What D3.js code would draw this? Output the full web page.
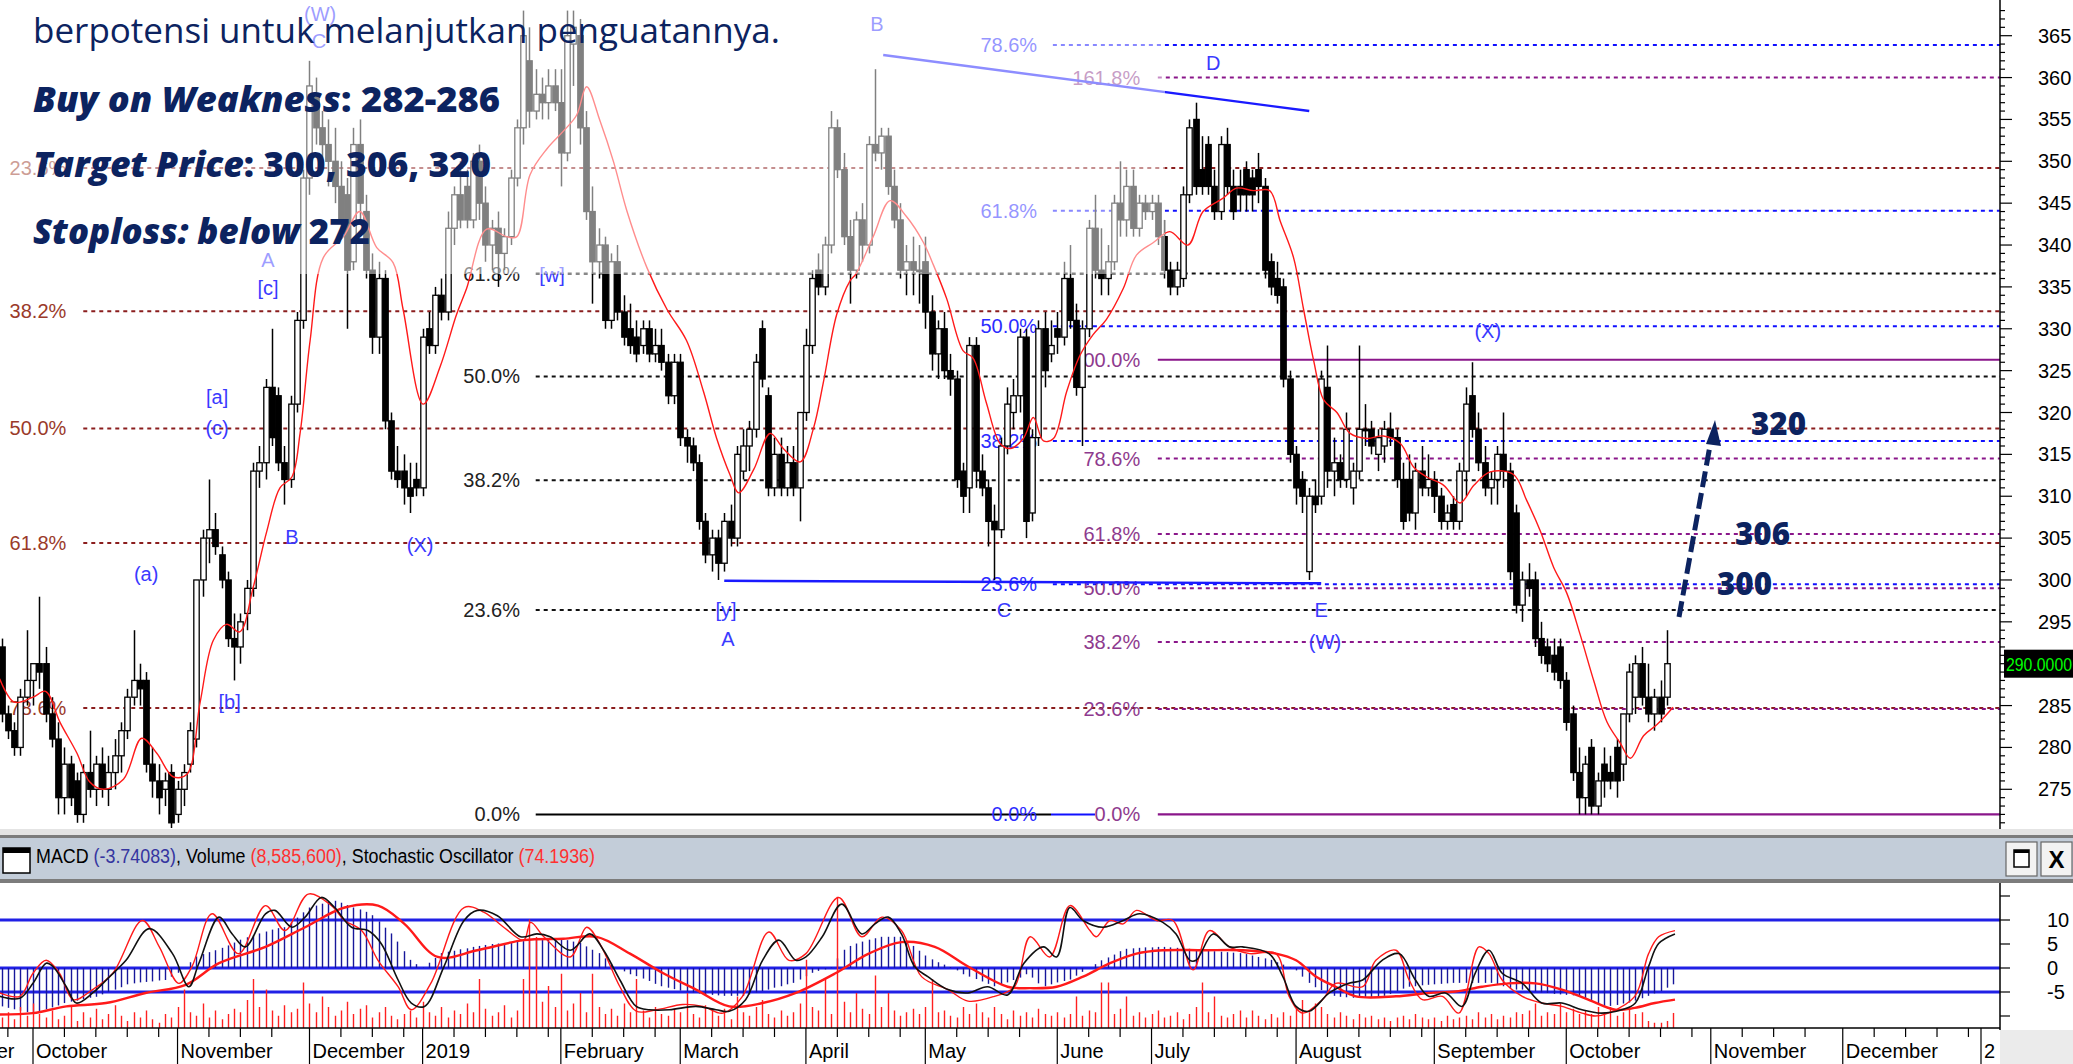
<!DOCTYPE html>
<html><head><meta charset="utf-8">
<script src="https://cdn.jsdelivr.net/npm/d3@7"></script>
<style>
html,body{margin:0;padding:0;background:#fff;overflow:hidden}
svg{display:block}
</style></head><body>
<svg id="c" width="2073" height="1064"></svg>
<script>
// ---------- DATA ----------
const FIRST = -5; // bar index of first bar (index 0 = 1 Oct 2018)
// [open, high, low, close]
const bars = [
[292,293,283,284],[284,285,281,282],[282,283,279,280],[280,287,279,286],[286,294,285,288],
[288,290,285,290],[290,298,287,289],[290,292,283,284],[284,286,280,281],[281,283,272,274],
[274,280,272,278],[278,279,273,274],[276,277,271,272],[272,278,271,277],[277,282,274,275],
[275,279,273,278],[278,280,274,275],[275,279,273,277],[277,281,275,279],[279,283,277,282],
[282,287,281,286],[286,294,285,288],[288,290,285,287],[288,289,277,278],[278,280,274,276],
[276,278,272,274],[275,277,273,276],[277,278,270,271],[272,276,271,275],[275,278,273,277],
[278,283,277,282],[281,300,280,300],[300,306,298,305],[305,312,302,306],[306,308,303,304],
[303,304,299,300],[300,301,292,293],[293,296,288,292],[292,296,290,295],[296,300,294,299],
[299,314,298,313],[313,316,311,314],[314,324,312,323],[323,330,316,317],[322,323,313,314],
[314,316,309,312],[312,322,311,321],[321,332,320,331],[331,349,330,348],[348,362,346,359],
[358,360,352,354],[354,356,349,352],[352,355,347,350],[350,354,345,347],[347,350,341,343],
[346,348,330,337],[338,354,337,352],[352,355,343,345],[344,346,336,337],[337,339,327,329],
[329,338,327,336],[336,337,318,319],[319,320,312,313],[313,316,311,312],[313,315,309,311],
[311,314,308,310],[312,314,310,311],[311,330,310,329],[330,332,327,328],[328,335,327,334],
[334,336,331,332],[332,344,331,342],[342,347,340,346],[346,350,342,343],[347,349,342,343],
[343,351,342,350],[350,352,343,345],[345,347,338,340],[340,343,337,342],[342,344,335,339],
[339,342,337,341],[341,349,340,348],[348,355,347,354],[354,368,352,365],[362,366,354,356],
[356,361,355,358],[358,360,355,357],[357,361,355,359],[359,361,356,357],[357,361,347,351],
[351,368,350,365],[364,368,359,366],[365,367,352,354],[354,356,343,344],[344,347,333,338],
[338,342,336,340],[340,341,330,331],[331,339,330,338],[338,340,331,332],[332,334,328,329],
[330,333,327,328],[329,331,326,327],[328,331,327,330],[330,331,326,327],[327,330,326,328],
[328,330,325,326],[326,327,321,322],[322,327,321,326],[326,327,316,317],[317,318,314,316],
[316,317,313,314],[314,315,306,307],[307,308,302,303],[303,306,301,305],[305,306,300,302],
[302,308,301,307],[307,309,304,305],[305,316,304,315],[313,318,312,316],[316,319,313,318],
[318,327,317,326],[330,331,323,324],[322,323,310,311],[311,317,310,315],[315,317,310,311],
[311,316,310,314],[314,316,310,311],[311,320,307,320],[320,330,319,328],[328,337,327,336],
[337,339,334,335],[335,341,334,340],[340,356,339,354],[354,355,348,349],[349,351,340,341],
[341,343,333,337],[337,344,336,343],[343,345,338,340],[340,353,339,352],[352,361,350,351],
[351,354,349,353],[353,354,346,347],[347,349,342,343],[343,345,336,337],[337,340,334,338],
[338,341,334,337],[337,340,333,337],[338,341,330,332],[332,334,325,327],[327,331,324,330],
[330,332,324,325],[325,327,322,324],[324,325,311,312],[313,314,308,310],[311,329,308,328],
[328,329,311,313],[313,315,310,311],[311,312,304,307],[307,309,300,306],[306,317,305,316],
[316,323,315,321],[320,324,318,322],[322,330,320,329],[329,330,305,307],[308,318,307,317],
[317,331,316,330],[330,332,323,325],[327,331,326,328],[330,332,327,329],[329,338,328,336],
[336,340,330,331],[331,333,322,323],[323,331,316,330],[330,343,329,342],[342,346,336,337],
[337,342,334,336],[336,340,334,338],[338,346,337,345],[345,350,341,343],[343,349,341,347],
[347,349,341,342],[342,346,341,345],[345,346,343,344],[344,346,343,345],[345,346,340,341],
[341,343,336,337],[337,338,334,335],[335,338,334,337],[336,347,335,346],[346,355,345,354],
[355,357,346,347],[349,353,346,347],[352,353,346,347],[347,349,343,344],[344,353,343,352],
[352,354,346,347],[347,349,343,344],[347,349,344,346],[349,350,344,346],[348,349,344,346],
[349,351,345,347],[347,348,336,337],[338,339,334,335],[336,338,333,334],[335,336,323,324],
[324,325,314,315],[315,316,309,311],[312,313,308,310],[301,311,300,310],[310,312,308,309],
[310,325,309,324],[323,328,311,313],[313,317,310,314],[314,315,311,312],[312,320,311,318],
[311,314,309,313],[313,328,312,318],[318,321,316,318],[318,319,315,316],[315,318,313,317],
[316,319,314,318],[318,320,316,317],[317,318,311,312],[312,314,306,307],[312,315,307,308],
[308,314,306,313],[313,316,310,311],[311,315,310,312],[312,313,308,310],[310,311,306,307],
[307,309,306,308],[309,310,306,307],[307,314,306,313],[313,323,310,321],[322,326,317,318],
[318,320,313,314],[314,316,310,311],[311,313,309,312],[312,316,309,315],[315,320,311,313],
[313,314,300,301],[308,309,296,297],[297,301,295,300],[300,302,298,299],[300,301,292,293],
[293,295,290,291],[292,293,289,290],[291,293,288,289],[292,293,287,288],[288,289,282,283],
[284,285,276,277],[277,280,272,274],[274,279,272,278],[280,281,272,273],[273,277,272,276],
[278,280,274,276],[277,279,275,276],[280,281,274,276],[278,284,276,284],[284,290,283,289],
[286,291,284,290],[290,292,285,286],[286,290,283,284],[284,287,282,286],[286,288,283,284],
[286,294,285,290]
];
// moving average: [bar index, value]
const maPoints = [[-5.3,288.2],[-3,285.4],[0,286],[2,286.7],[4.3,283],[7,279.3],[9,275.9],[11.2,275],[14.4,276.2],[17.3,281.1],[19.7,279.3],[22.3,276.5],[24.5,276.8],[26.6,285.4],[28.7,292.8],[30.8,294.7],[32.9,293.8],[35,299],[37.2,305.8],[39.3,311],[41.2,312.3],[42.5,317.5],[44.1,328.6],[46.2,338.5],[49.4,341],[52,344],[54.7,339.7],[57.3,337.9],[58.9,332.3],[62.1,321],[64.8,325.5],[67.4,331.7],[69,334.8],[72.2,341.9],[75.4,341],[77,341],[79.1,348.4],[81.8,351.5],[84.4,353.6],[86.5,355.5],[88.1,358.9],[90.2,354.9],[92.4,349.9],[94.5,344.1],[97.7,337.3],[100.9,332.3],[104,328.6],[106.7,322.5],[108.8,316.9],[110.9,312.6],[112.3,310.4],[114.7,313.2],[117.3,317.5],[119.4,315.7],[122.1,314.1],[124.2,318.1],[125.8,323.7],[127.9,331.7],[130,335.7],[131,336.6],[133.7,341],[136.4,345.3],[139,343.4],[141.7,340.3],[143.3,337.6],[145.4,333.6],[148,327.4],[149.6,326.5],[151.7,321.2],[153.9,316.3],[155.5,315.7],[157.6,316.9],[159.2,319.4],[160.8,316.6],[162.4,316.9],[164.5,322.5],[166.6,326.8],[168.7,329.3],[170.8,331.1],[173.5,334.8],[175.6,338.8],[178.3,340.3],[180.9,341.6],[183.8,340],[186.2,344],[189.4,345.6],[191.5,346.8],[194.2,346.5],[196.8,346.5],[198.5,342.8],[200.6,338.5],[202.2,332.3],[203.8,326.2],[205.4,321.5],[207.5,320],[209.6,317.5],[212.3,316.9],[214.9,317.2],[217.6,316.3],[219.7,313.5],[221.8,312.3],[224.5,311.3],[227.1,309.2],[229.3,311.3],[231.9,312.9],[235.6,312.6],[237.7,309.5],[239.9,305.8],[242,301.5],[244.1,298.4],[246.2,293.5],[248.4,287.9],[250.5,283],[252.6,280.5],[254.2,278.7],[256.3,281.4],[258.4,282.7],[261,284.8]];
// volume (millions), one per bar
const volume = [6,9,5,12,7,
14,8,6,10,5,7,12,4,9,6,11,5,8,13,7,4,9,6,10,5,3,8,6,
12,22,9,7,14,6,10,5,8,11,9,16,28,12,22,10,7,13,9,11,26,
14,9,18,12,7,10,15,8,11,13,6,9,12,7,5,8,10,6,
15,9,7,12,6,10,8,14,9,28,11,7,9,13,6,10,28,62,52,15,24,12,
31,10,14,20,9,31,12,8,11,7,14,9,28,10,6,12,8,7,11,
9,20,8,6,13,10,7,11,5,18,9,7,12,16,8,6,10,7,9,14,
39,12,10,28,8,75,15,9,20,11,8,30,12,20,10,7,9,11,8,
12,28,9,10,7,6,12,8,14,9,6,12,8,5,10,7,9,6,11,8,7,
9,6,8,18,7,10,9,26,26,8,11,18,7,9,6,
8,10,6,7,9,5,8,12,26,9,18,7,6,8,10,6,10,7,5,8,6,9,7,
11,16,9,14,12,8,6,9,7,5,8,6,7,5,6,4,6,7,5,8,6,5,
6,4,7,5,6,7,5,9,6,8,5,7,6,9,8,10,14,7,9,8,14,
9,11,8,10,8,12,9,12,7,9,12,8,9,4,3,3,4,8.59];
// MACD histogram, one per bar
const macdHist = [-8.0,-8.3,-8.6,-8.9,-9.2,-9.4,-9.0,-8.6,-8.2,-7.8,-7.3,-7.0,-6.8,-6.5,-6.2,-6.0,-5.5,-5.0,-4.5,-4.0,-3.4,-3.2,-3.0,-2.9,-2.8,-2.6,-2.5,-1.8,-1.0,0,
1.2,2.4,2.9,3.3,3.7,4.2,4.7,5.3,5.9,6.4,6.8,7.2,7.6,8.0,8.3,8.5,9.5,10.5,11.6,12.6,13.0,13.4,13.8,14.0,13.6,13.1,12.6,12.2,11.7,11.0,9.7,8.4,7.2,5.5,3.5,
1.7,0.8,0.1,1.1,2.1,3.1,3.4,3.6,3.9,4.1,4.4,4.6,4.8,5.0,5.1,5.2,5.3,5.5,5.6,5.8,5.9,6.0,6.1,6.2,6.1,5.8,5.5,5.2,4.5,3.8,
3.1,2.0,0.9,0.0,-0.7,-1.3,-1.7,-2.2,-2.7,-3.3,-3.8,-4.1,-4.4,-4.7,-4.9,-5.1,-5.3,-5.5,-5.6,-5.7,-5.8,-5.8,-5.8,-5.8,-5.5,
-5.1,-4.8,-4.5,-4.1,-3.8,-3.4,-3.1,-2.4,-1.7,-1.0,-0.6,-0.3,0.1,2.0,3.8,4.6,5.1,5.5,5.9,6.2,6.5,6.5,6.5,6.5,5.5,
4.6,3.6,2.6,1.8,1.2,0.7,0.2,-0.5,-1.3,-1.8,-2.3,-2.8,-3.3,-3.8,-3.5,-3.0,-2.5,-2.0,-1.3,-2.0,-3.2,-3.8,-3.4,-3.0,-2.7,
-2.4,-1.6,-0.8,0.0,0.8,1.6,2.2,2.8,3.5,4.0,4.1,4.2,4.3,4.3,4.4,4.4,4.3,4.2,4.1,4.0,3.8,3.7,3.6,3.5,3.4,
3.3,3.2,3.1,2.9,2.6,2.3,2.0,1.7,1.2,0.7,0.2,-0.5,-1.8,-3.1,-4.0,-4.6,-5.2,-5.8,-6.0,-6.1,-6.2,-6.2,-6.2,-6.1,-6.0,
-5.8,-5.4,-4.8,-4.3,-3.9,-3.8,-3.6,-3.5,-3.4,-3.3,-3.2,-3.1,-3.1,-3.1,-3.1,-3.1,-3.1,-3.1,-3.4,-3.8,
-4.2,-4.5,-4.5,-4.7,-4.9,-5.1,-5.2,-5.4,-5.5,-5.6,-5.7,-5.8,-6.3,-6.9,-7.4,-7.9,-7.9,-7.7,-7.4,-7.2,-6.8,-6.3,-5.8,-5.3,-4.8,-4.1,-3.4];
// oscillator lines: [bar index, panel value]
const stochK = [[-5.3,-5.9],[-2.1,-6.3],[0,-3.2],[2.1,1.0],[3.2,0.3],[5.3,-3.9],[6.9,-7.3],[9.5,-5.2],[12.2,-1.8],[14.8,1.6],[18.5,8.2],[22.2,3.0],[24.8,-3.9],[26.4,1.0],[29.6,10.6],[31.7,7.1],[33.8,4.4],[37,11.3],[38.5,12.0],[41.2,8.5],[43.3,10.6],[45.9,14.7],[48,12.6],[50.7,8.5],[53.3,7.8],[55.4,5.1],[58.1,-2.5],[60.2,-7.3],[62.3,-8.0],[65.4,0.3],[68.6,9.9],[70.7,12.0],[73.9,10.9],[77.6,6.5],[80.2,7.1],[82.3,6.5],[85.5,3.7],[88.6,7.1],[90.8,3.7],[93.4,-2.5],[96,-8.0],[98.1,-8.7],[101.3,-8.7],[105.5,-8.0],[108.7,-8.7],[110.8,-9.0],[113.4,-6.6],[116.1,1.6],[118.7,5.8],[121.4,1.6],[123,2.3],[125.6,6.5],[128.7,13.3],[131.9,7.1],[134,9.2],[136.1,10.6],[138.2,7.1],[140.3,0.3],[142.4,-1.8],[145.6,-4.5],[148.8,-5.2],[151.9,-3.9],[155.1,-5.6],[157.7,1.0],[160.8,4.4],[162.9,2.3],[165.0,12.6],[167.1,9.9],[170.3,8.5],[173.5,9.9],[176.1,11.3],[179.8,9.5],[181.9,7.1],[184.1,1.6],[185.1,1.6],[187.8,7.1],[190.4,4.4],[192.5,4.4],[196.7,3.0],[198.9,-1.8],[201,-8.0],[203.1,-9.0],[206.3,-5.2],[209.4,-3.2],[211.6,-2.5],[214.7,1.6],[217.4,3.0],[220,-2.5],[222.1,-5.9],[224.8,-5.2],[227.4,-8.0],[229.5,-1.1],[231.7,3.7],[233.8,-1.1],[237,-3.2],[240.1,-7.3],[243.3,-7.3],[246.5,-8.7],[249.6,-9.4],[252.8,-8.7],[255,-7.3],[257.1,0.3],[258.7,5.1],[261.3,7.1]];
const stochD = [[-5.3,-5.2],[-2.1,-5.9],[0,-1.1],[2.1,1.6],[4.2,-1.1],[6.4,-6.6],[9.5,-4.5],[12.7,-1.1],[17.4,9.9],[20.1,4.4],[23.2,-3.2],[25.3,0.3],[28.5,11.3],[32.7,3.0],[37,13.0],[40.1,7.8],[43.8,15.4],[47.5,13.0],[49.6,9.9],[52.3,7.8],[54.9,1.6],[58.1,-3.9],[60.2,-8.7],[63.3,-3.2],[68.6,12.6],[71.8,11.6],[74.9,8.5],[78.1,5.8],[79.2,9.5],[81.3,6.5],[85.5,2.3],[88.1,8.5],[90.2,5.1],[93.4,-3.9],[96,-9.0],[99.2,-8.7],[103.4,-7.6],[106.6,-8.0],[109.8,-9.4],[112.9,-5.9],[117.1,7.5],[120.3,1.6],[123,3.0],[128.2,14.7],[131.9,6.5],[135.1,10.6],[138.2,7.8],[141.4,-1.8],[145.6,-4.5],[148.8,-6.9],[153,-5.9],[156.2,-3.9],[158.7,6.5],[161.8,2.3],[165,13.0],[168.2,7.8],[169.2,6.5],[171.4,9.9],[173.5,9.2],[175.6,12.0],[178.8,9.9],[181.4,9.9],[184.6,-0.4],[187.2,7.8],[190.4,4.4],[193.6,3.0],[197.8,3.0],[199.9,-5.9],[202,-9.4],[205.2,-6.6],[207.3,-3.2],[211.6,-3.9],[213.7,1.6],[216.9,3.7],[219,-2.5],[221.1,-6.6],[224.3,-5.9],[226.9,-9.4],[230.1,4.4],[231.7,3.0],[233.8,-2.5],[237,-5.9],[240.1,-7.3],[243.3,-8.0],[246.5,-9.4],[248.6,-10.0],[250.7,-9.4],[254.9,-5.9],[257.1,3.0],[258.7,6.5],[261.3,7.8]];
const macdLine = [[-5.3,-9.7],[0,-9.4],[5.3,-8.0],[11.6,-7.3],[17.9,-5.2],[24.3,-3.5],[29.6,1.0],[37,4.4],[43.3,8.5],[49.6,12.6],[54.9,13.0],[59.1,9.2],[64.4,2.3],[70.7,3.7],[78.1,5.8],[84.4,6.1],[89.7,6.5],[95,3.0],[100.3,-1.1],[105.5,-4.5],[110.8,-8.0],[116.1,-7.3],[121.4,-5.2],[127.7,-1.1],[133,3.0],[138.2,5.4],[143.5,4.4],[148.8,0.3],[155.1,-3.9],[158.7,-4.2],[162.9,-3.9],[167.1,-1.8],[171.4,1.0],[175.6,3.0],[179.8,3.7],[186.2,3.7],[192.5,3.7],[197.8,3.0],[201,1.6],[204.2,-1.8],[207.3,-3.9],[210.5,-5.9],[216.9,-5.9],[222.1,-5.2],[226.4,-4.9],[230.6,-3.9],[234.8,-3.2],[239.1,-3.2],[243.3,-4.5],[247.5,-6.6],[251.8,-8.7],[254.9,-8.3],[258.1,-7.3],[261.3,-6.6]];

// time axis
const monthNames = ["September","October","November","December","2019","February","March","April","May","June","July","August","September","October","November","December","2"];
const monthStart = [-19,0,23,44,62,84,103,123,142,163,178,201,223,244,267,288,310];
const priceTicks = [365,360,355,350,345,340,335,330,325,320,315,310,305,300,295,285,280,275];
const lowTicks = [10,5,0,-5];

// Fibonacci sets: levels, labels, label-end index, line-start index
const fibRed    = {lv:[349.2,332.1,318.1,304.4,284.7], lb:["23.6%","38.2%","50.0%","61.8%","78.6%"], lab:5.3, from:8, col:"#8b1e1e", tcol:"#9a3a2a"};
const fibBlack  = {lv:[336.6,324.3,311.9,296.4], lb:["61.8%","50.0%","38.2%","23.6%"], lab:77.5, from:80, col:"#111", tcol:"#222"};
const fibBlue   = {lv:[363.9,344.1,330.3,316.6,299.5], lb:["78.6%","61.8%","50.0%","38.2%","23.6%"], lab:159.8, from:162.3, col:"#1010ff", tcol:"#2b2bff"};
const fibPurple = {lv:[360.0,314.5,305.5,299.0,292.6,284.6], lb:["161.8%","78.6%","61.8%","50.0%","38.2%","23.6%"], lab:176.2, from:179, col:"#8a168a", tcol:"#8e3a8e"};
const fibPurple100 = 326.3;
const zeroLevel = 272;

// wave labels [text, bar index, price]
const waveLabels = [["(W)",45.7,367.6],["C",45.5,364.4],["A",37.4,338.2],["[c]",37.4,334.9],["[a]",29.3,321.8],["(c)",29.3,318.2],
["B",41.2,305.1],["(a)",18,300.7],["(X)",61.6,304.2],["[b]",31.3,285.4],["[w]",82.6,336.4],["[y]",110.3,296.4],["A",110.6,292.9],
["B",134.3,366.4],["C",154.5,296.4],["D",187.8,361.7],["E",205,296.4],["(W)",205.6,292.6],["(X)",231.5,329.7]];
// trend lines [i1,p1,i2,p2]
const trendLines = [[135.3,362.7,203.1,356.0],[110,299.9,205,299.6]];

const noteLines = ["pergerakan harga saat ini sedang menguji area support kuat,","berpotensi untuk melanjutkan penguatannya."];
const targets = [["320",318.6],["306",305.5],["300",299.5]];
const lastPrice = 290;

// ---------- SCALES ----------
const svg = d3.select('#c');
const x = d3.scaleLinear().domain([0,310]).range([33,1981]);
const y = d3.scaleLinear().domain([275,365]).range([789.3,35.7]);
const yL = d3.scaleLinear().domain([0,10]).range([968,920]);
const yV = d3.scaleLinear().domain([0,80]).range([1028,888]);
const AX = 2000;
const FONT = "'Liberation Sans',Arial,sans-serif";
const NAVY = "#0c2360";

const defs = svg.append('defs');
defs.append('clipPath').attr('id','mainClip').append('rect').attr('x',0).attr('y',0).attr('width',AX).attr('height',828);
defs.append('clipPath').attr('id','lowClip').append('rect').attr('x',0).attr('y',884).attr('width',AX).attr('height',144);

svg.append('rect').attr('width',2073).attr('height',1064).attr('fill','#fff');

const main = svg.append('g').attr('clip-path','url(#mainClip)');

// ---------- FIB LINES ----------
function fibSet(s){
  s.lv.forEach((p,k)=>{
    main.append('line').attr('x1',x(s.from)).attr('x2',AX).attr('y1',y(p)).attr('y2',y(p))
      .attr('stroke',s.col).attr('stroke-width',2).attr('stroke-dasharray','4,4');
    main.append('text').attr('x',x(s.lab)).attr('y',y(p)+7).attr('text-anchor','end')
      .attr('font-family',FONT).attr('font-size',20).attr('fill',s.tcol).text(s.lb[k]);
  });
}
[fibRed,fibBlack,fibBlue,fibPurple].forEach(fibSet);
// 100% purple solid
main.append('line').attr('x1',x(fibPurple.from)).attr('x2',AX).attr('y1',y(fibPurple100)).attr('y2',y(fibPurple100)).attr('stroke','#8a168a').attr('stroke-width',2.2);
main.append('text').attr('x',x(fibPurple.lab)).attr('y',y(fibPurple100)+7).attr('text-anchor','end').attr('font-family',FONT).attr('font-size',20).attr('fill',fibPurple.tcol).text('100.0%');
// 0.0% lines
main.append('line').attr('x1',x(fibBlack.from)).attr('x2',x(162)).attr('y1',y(zeroLevel)).attr('y2',y(zeroLevel)).attr('stroke','#000').attr('stroke-width',2);
main.append('line').attr('x1',x(162)).attr('x2',x(169)).attr('y1',y(zeroLevel)).attr('y2',y(zeroLevel)).attr('stroke','#1010ff').attr('stroke-width',2);
main.append('line').attr('x1',x(fibPurple.from)).attr('x2',AX).attr('y1',y(zeroLevel)).attr('y2',y(zeroLevel)).attr('stroke','#8a168a').attr('stroke-width',2.2);
[[fibBlack,'#222'],[fibBlue,'#2b2bff'],[fibPurple,'#8e3a8e']].forEach(([s,c])=>{
  main.append('text').attr('x',x(s.lab)).attr('y',y(zeroLevel)+7).attr('text-anchor','end').attr('font-family',FONT).attr('font-size',20).attr('fill',c).text('0.0%');
});

// trend lines
trendLines.forEach(t=>{
  main.append('line').attr('x1',x(t[0])).attr('y1',y(t[1])).attr('x2',x(t[2])).attr('y2',y(t[3])).attr('stroke','#1a1aff').attr('stroke-width',2.4);
});

// ---------- CANDLES ----------
const cw = 5.4;
const cg = main.append('g');
cg.selectAll('line.w').data(bars).join('line').attr('class','w')
  .attr('x1',(d,k)=>Math.round(x(k+FIRST))+0.5).attr('x2',(d,k)=>Math.round(x(k+FIRST))+0.5)
  .attr('y1',d=>y(d[1])).attr('y2',d=>y(d[2])).attr('stroke','#000').attr('stroke-width',1.5);
cg.selectAll('rect.b').data(bars).join('rect').attr('class','b')
  .attr('x',(d,k)=>Math.round(x(k+FIRST))+0.5-cw/2)
  .attr('y',d=>y(Math.max(d[0],d[3])))
  .attr('width',cw)
  .attr('height',d=>Math.max(1.5,Math.abs(y(d[0])-y(d[3]))))
  .attr('fill',d=>d[3]>d[0]?'#fff':'#000').attr('stroke','#000').attr('stroke-width',1.3);

// moving average
main.append('path').datum(maPoints)
  .attr('d',d3.line().x(d=>x(d[0])).y(d=>y(d[1])).curve(d3.curveCatmullRom))
  .attr('fill','none').attr('stroke','#ff1a1a').attr('stroke-width',1.4);

// wave labels
main.selectAll('text.wave').data(waveLabels).join('text').attr('class','wave')
  .attr('x',d=>x(d[1])).attr('y',d=>y(d[2])+7).attr('text-anchor','middle')
  .attr('font-family',FONT).attr('font-size',20).attr('fill','#3a3aff').text(d=>d[0]);

// overlay (semi-transparent box behind the note text)
svg.append('rect').attr('x',0).attr('y',0).attr('width',1165).attr('height',274).attr('fill','#fff').attr('opacity',0.5);

// ---------- PRICE AXIS ----------
svg.append('line').attr('x1',AX).attr('x2',AX).attr('y1',0).attr('y2',830).attr('stroke','#000').attr('stroke-width',1.5);
const minor = d3.range(268,369);
svg.selectAll('line.pt').data(minor).join('line').attr('class','pt')
  .attr('x1',AX).attr('x2',d=>d%5===0?AX+12:AX+5).attr('y1',d=>y(d)).attr('y2',d=>y(d))
  .attr('stroke','#000').attr('stroke-width',1.2);
svg.selectAll('text.pl').data(priceTicks).join('text').attr('class','pl')
  .attr('x',2038).attr('y',d=>y(d)+7).attr('font-family',FONT).attr('font-size',20).attr('fill','#000').text(d=>d);
svg.append('rect').attr('x',2004).attr('y',y(lastPrice)-14).attr('width',69).attr('height',28).attr('fill','#000');
svg.append('text').attr('x',2006).attr('y',y(lastPrice)+7).attr('font-family',FONT).attr('font-size',19).attr('fill','#00ff00').attr('textLength',66).attr('lengthAdjust','spacingAndGlyphs').text(lastPrice.toFixed(4));

// ---------- NOTE TEXT ----------
const nt = svg.append('g').attr('fill',NAVY);
nt.append('text').attr('x',33).attr('y',-8).attr('font-family',"'Open Sans',sans-serif").attr('font-size',34).attr('textLength',779).attr('lengthAdjust','spacingAndGlyphs').text(noteLines[0]);
nt.append('text').attr('x',33).attr('y',43).attr('font-family',"'Open Sans',sans-serif").attr('font-size',34).attr('textLength',747).attr('lengthAdjust','spacingAndGlyphs').text(noteLines[1]);
function boldLine(yy,label,value,len){
  const t = nt.append('text').attr('x',33).attr('y',yy).attr('font-family',"'Open Sans',sans-serif").attr('font-size',36).attr('font-weight',800)
    .attr('textLength',len).attr('lengthAdjust','spacingAndGlyphs');
  t.append('tspan').attr('font-style','italic').text(label);
  t.append('tspan').text(value);
}
boldLine(112,"Buy on Weakness",": 282-286",467);
boldLine(177,"Target Price",": 300, 306, 320",458);
boldLine(244,"Stoploss: below ","272",337);

// target labels and arrow
const tx = [1751,1735,1717];
targets.forEach((t,k)=>{
  svg.append('text').attr('x',tx[k]).attr('y',y(t[1])+11).attr('font-family',"'Open Sans',sans-serif").attr('font-size',31).attr('font-weight',800)
    .attr('fill',NAVY).attr('textLength',55).attr('lengthAdjust','spacingAndGlyphs').text(t[0]);
});
const a0=[1679,617], a1=[1711,440], tip=[1715,420];
svg.append('line').attr('x1',a0[0]).attr('y1',a0[1]).attr('x2',a1[0]).attr('y2',a1[1]).attr('stroke',NAVY).attr('stroke-width',5).attr('stroke-dasharray','16,6');
svg.append('path').attr('d',`M${tip[0]},${tip[1]} L${tip[0]-9},${tip[1]+24} L${tip[0]+6},${tip[1]+26} Z`).attr('fill',NAVY);

// ---------- PANEL HEADER ----------
svg.append('rect').attr('x',0).attr('y',829).attr('width',2073).attr('height',6).attr('fill','#e4e4e4');
svg.append('rect').attr('x',0).attr('y',835).attr('width',2073).attr('height',3).attr('fill','#7c7c7c');
svg.append('rect').attr('x',0).attr('y',838).attr('width',2073).attr('height',41).attr('fill','#c3cdd9');
svg.append('rect').attr('x',0).attr('y',879).attr('width',2073).attr('height',4).attr('fill','#7c7c7c');
svg.append('rect').attr('x',3).attr('y',848).attr('width',27).attr('height',25).attr('fill','#fff').attr('stroke','#000').attr('stroke-width',1.5);
svg.append('rect').attr('x',3).attr('y',848).attr('width',27).attr('height',5).attr('fill','#000');
const ht = svg.append('text').attr('x',36).attr('y',863).attr('font-family',FONT).attr('font-size',20).attr('textLength',559).attr('lengthAdjust','spacingAndGlyphs');
[["MACD ","#000"],["(-3.74083)","#3535a0"],[", Volume ","#000"],["(8,585,600)","#ff3030"],[", Stochastic Oscillator ","#000"],["(74.1936)","#ff3030"]]
  .forEach(p=>ht.append('tspan').attr('fill',p[1]).text(p[0]));
[[2006,'max'],[2041,'x']].forEach(([bx,kind])=>{
  svg.append('rect').attr('x',bx).attr('y',842).attr('width',31).attr('height',34).attr('fill','#f2f2f2').attr('stroke','#666').attr('stroke-width',1.2);
  if(kind==='max'){
    svg.append('rect').attr('x',bx+8).attr('y',850).attr('width',15).attr('height',17).attr('fill','#fff').attr('stroke','#000').attr('stroke-width',1.5);
    svg.append('rect').attr('x',bx+8).attr('y',850).attr('width',15).attr('height',3).attr('fill','#000');
  } else {
    svg.append('text').attr('x',bx+15.5).attr('y',868).attr('text-anchor','middle').attr('font-family',FONT).attr('font-size',24).attr('font-weight',700).text('X');
  }
});

// ---------- LOWER PANEL ----------
const low = svg.append('g').attr('clip-path','url(#lowClip)');
[10,0,-5].forEach(v=>low.append('line').attr('x1',0).attr('x2',AX).attr('y1',yL(v)).attr('y2',yL(v)).attr('stroke','#2020e6').attr('stroke-width',3));
low.selectAll('line.h').data(macdHist).join('line').attr('class','h')
  .attr('x1',(d,k)=>Math.round(x(k+FIRST))+0.5).attr('x2',(d,k)=>Math.round(x(k+FIRST))+0.5)
  .attr('y1',yL(0)).attr('y2',d=>yL(d)).attr('stroke','#17179a').attr('stroke-width',1.4);
low.selectAll('line.v').data(volume).join('line').attr('class','v')
  .attr('x1',(d,k)=>Math.round(x(k+FIRST))+0.5).attr('x2',(d,k)=>Math.round(x(k+FIRST))+0.5)
  .attr('y1',yV(0)).attr('y2',d=>yV(d)).attr('stroke','#ff2020').attr('stroke-width',1.4);
const lineL = d3.line().x(d=>x(d[0])).y(d=>yL(d[1]));
low.append('path').datum(macdLine).attr('d',lineL.curve(d3.curveCatmullRom)).attr('fill','none').attr('stroke','#ff1a1a').attr('stroke-width',2.4);
low.append('path').datum(stochD).attr('d',d3.line().x(d=>x(d[0])).y(d=>yL(d[1])).curve(d3.curveCatmullRom)).attr('fill','none').attr('stroke','#ff1a1a').attr('stroke-width',1.4);
low.append('path').datum(stochK).attr('d',d3.line().x(d=>x(d[0])).y(d=>yL(d[1])).curve(d3.curveCatmullRom)).attr('fill','none').attr('stroke','#111').attr('stroke-width',1.6);

svg.append('line').attr('x1',AX).attr('x2',AX).attr('y1',883).attr('y2',1030).attr('stroke','#000').attr('stroke-width',1.5);
svg.selectAll('line.lt').data([15,10,5,0,-5,-10]).join('line').attr('class','lt')
  .attr('x1',AX).attr('x2',AX+10).attr('y1',d=>yL(d)).attr('y2',d=>yL(d)).attr('stroke','#000').attr('stroke-width',1.2);
svg.selectAll('text.ll').data(lowTicks).join('text').attr('class','ll')
  .attr('x',2047).attr('y',d=>yL(d)+7).attr('font-family',FONT).attr('font-size',20).text(d=>d);

// ---------- TIME AXIS ----------
svg.append('rect').attr('x',AX).attr('y',1030).attr('width',73).attr('height',34).attr('fill','#ebebeb');
svg.append('line').attr('x1',0).attr('x2',AX).attr('y1',1028).attr('y2',1028).attr('stroke','#000').attr('stroke-width',1.5);
const weekTicks = [];
monthStart.forEach((s,k)=>{ const e = k<monthStart.length-1?monthStart[k+1]:s+1; for(let t=s+5;t<e-1;t+=5) weekTicks.push(t); });
svg.selectAll('line.wt').data(weekTicks.filter(t=>x(t)>=0&&x(t)<AX)).join('line').attr('class','wt')
  .attr('x1',d=>x(d)).attr('x2',d=>x(d)).attr('y1',1028).attr('y2',1037).attr('stroke','#000').attr('stroke-width',1.2);
const axg = svg.append('g');
axg.selectAll('line.mt').data(monthStart.filter(s=>x(s)>=0&&x(s)<=AX)).join('line').attr('class','mt')
  .attr('x1',d=>x(d)).attr('x2',d=>x(d)).attr('y1',1028).attr('y2',1064).attr('stroke','#000').attr('stroke-width',1.2);
defs.append('clipPath').attr('id','axClip').append('rect').attr('x',0).attr('y',1029).attr('width',AX-1).attr('height',35);
svg.append('g').attr('clip-path','url(#axClip)').selectAll('text').data(monthNames).join('text')
  .attr('x',(d,k)=>x(monthStart[k])+3).attr('y',1058).attr('font-family',FONT).attr('font-size',20).attr('fill','#000').text(d=>d);
</script></body></html>
